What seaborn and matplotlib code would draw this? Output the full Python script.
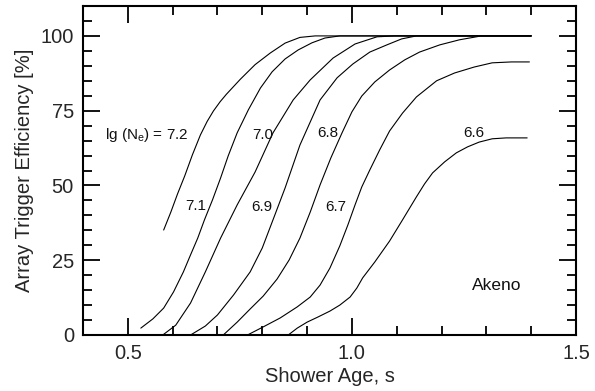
import matplotlib
matplotlib.use("Agg")
import matplotlib.pyplot as plt
from matplotlib.ticker import MultipleLocator
import seaborn as sns
import pandas as pd

# ---- data ----
age_72 = [0.580, 0.596, 0.611, 0.627, 0.644, 0.662, 0.677, 0.691, 0.706, 0.720, 0.751, 0.784,
          0.818, 0.851, 0.884, 0.918, 1.400]
eff_72 = [35.1, 41.1, 47.2, 53.2, 60.2, 66.9, 71.4, 74.9, 78.0, 80.5, 85.5, 90.4,
          94.3, 97.6, 99.5, 100.0, 100.0]

age_71 = [0.529, 0.556, 0.580, 0.602, 0.624, 0.640, 0.656, 0.671, 0.689, 0.707, 0.724, 0.744,
          0.769, 0.796, 0.822, 0.851, 0.880, 0.911, 0.940, 0.973, 1.400]
eff_71 = [2.3, 5.4, 9.0, 14.4, 21.1, 26.8, 32.4, 38.5, 45.2, 52.5, 59.9, 67.6,
          75.3, 82.6, 88.0, 92.3, 95.3, 97.7, 99.3, 100.0, 100.0]

age_70 = [0.578, 0.607, 0.640, 0.673, 0.707, 0.744, 0.784, 0.824, 0.869, 0.907, 0.958, 1.007, 1.056, 1.096, 1.400]
eff_70 = [0.0, 3.3, 10.7, 21.1, 32.4, 43.5, 54.5, 67.6, 78.6, 85.3, 92.6, 97.3, 99.7, 100.0, 100.0]

age_69 = [0.640, 0.673, 0.700, 0.736, 0.773, 0.800, 0.829, 0.851, 0.884, 0.929, 0.967, 1.002,
          1.040, 1.078, 1.111, 1.144, 1.400]
eff_69 = [0.0, 3.0, 6.7, 13.4, 21.1, 29.1, 40.5, 49.2, 63.5, 78.6, 86.0, 90.6,
          94.6, 97.0, 99.0, 100.0, 100.0]

age_68 = [0.713, 0.744, 0.773, 0.802, 0.833, 0.860, 0.884, 0.907, 0.929, 0.953, 0.978, 1.000,
          1.022, 1.051, 1.084, 1.118, 1.151, 1.196, 1.240, 1.289, 1.400]
eff_68 = [0.0, 4.3, 8.7, 13.0, 18.7, 25.1, 32.4, 41.1, 50.2, 59.2, 67.6, 74.6,
          79.9, 84.6, 88.6, 92.0, 94.6, 97.0, 98.7, 100.0, 100.0]

age_67 = [0.767, 0.802, 0.840, 0.878, 0.907, 0.929, 0.951, 0.973, 0.991, 1.007, 1.022, 1.040,
          1.062, 1.084, 1.113, 1.144, 1.189, 1.229, 1.273, 1.313, 1.356, 1.396]
eff_67 = [0.0, 2.7, 5.7, 9.4, 12.7, 16.7, 22.4, 29.8, 36.8, 43.5, 49.5, 55.2,
          61.9, 68.2, 74.2, 79.6, 85.0, 87.6, 89.6, 91.0, 91.3, 91.3]

age_66 = [0.858, 0.878, 0.900, 0.924, 0.951, 0.973, 0.996, 1.011, 1.024, 1.051, 1.084, 1.113,
          1.144, 1.162, 1.180, 1.207, 1.233, 1.258, 1.284, 1.313, 1.344, 1.391]
eff_66 = [0.0, 2.3, 4.3, 6.0, 8.0, 10.0, 12.7, 15.7, 19.1, 24.4, 31.4, 38.5,
          46.2, 50.5, 54.2, 57.9, 60.9, 62.9, 64.5, 65.6, 65.9, 65.9]

curve_names = ["7.2", "7.1", "7.0", "6.9", "6.8", "6.7", "6.6"]
curve_ages = [age_72, age_71, age_70, age_69, age_68, age_67, age_66]
curve_effs = [eff_72, eff_71, eff_70, eff_69, eff_68, eff_67, eff_66]

label_texts = ["lg (N$_\\mathregular{e}$) = 7.2", "7.1", "7.0", "6.9", "6.8", "6.7", "6.6"]
label_x = [0.449, 0.651, 0.800, 0.798, 0.947, 0.964, 1.271]
label_y = [66.9, 43.1, 66.9, 42.8, 67.6, 42.8, 67.6]

x_label = "Shower Age, s"
y_label = "Array Trigger Efficiency [%]"
note_text = "Akeno"

# ---- build long-form table ----
rows = []
for name, xs, ys in zip(curve_names, curve_ages, curve_effs):
    for i, (a, e) in enumerate(zip(xs, ys)):
        rows.append({"curve": name, "order": i, "age": a, "eff": e})
df = pd.DataFrame(rows)

sns.set_style("ticks")
plt.rcParams["font.family"] = ["Liberation Sans", "DejaVu Sans"]
plt.rcParams["mathtext.fontset"] = "custom"
plt.rcParams["mathtext.rm"] = "Liberation Sans"
plt.rcParams["mathtext.it"] = "Liberation Sans:italic"

fig = plt.figure(figsize=(5.95, 3.91), dpi=100)
ax = fig.add_axes([83 / 595, 1 - 335 / 391, (576 - 83) / 595, (335 - 6) / 391])

sns.lineplot(data=df, x="age", y="eff", hue="curve", units="curve", estimator=None,
             sort=False, palette=["black"] * len(curve_names), legend=False,
             linewidth=0.8, ax=ax)
for ln in ax.get_lines():
    ln.set_solid_joinstyle("round")
    ln.set_solid_capstyle("round")

for t, x, y in zip(label_texts, label_x, label_y):
    ha = "left" if t.startswith("lg") else "center"
    ax.text(x, y, t, ha=ha, va="center", fontsize=11, color="#111111")

ax.text(1.324, 16.4, note_text, ha="center", va="center", fontsize=12.5, color="#111111")

ax.set_xlim(0.4, 1.5)
ax.set_ylim(0, 110)
ax.xaxis.set_major_locator(MultipleLocator(0.5))
ax.xaxis.set_minor_locator(MultipleLocator(0.1))
ax.yaxis.set_major_locator(MultipleLocator(25))
ax.yaxis.set_minor_locator(MultipleLocator(5))
ax.set_xticks([0.5, 1.0, 1.5])
ax.set_xticklabels(["0.5", "1.0", "1.5"])

ax.tick_params(which="both", direction="in", top=True, right=True, color="black", width=1.3)
ax.tick_params(which="major", length=12, labelsize=14.5, pad=6.5)
ax.tick_params(which="minor", length=6.5)
for s in ax.spines.values():
    s.set_linewidth(1.5)
    s.set_color("black")

ax.set_xlabel(x_label, fontsize=14.5, labelpad=3)
ax.set_ylabel(y_label, fontsize=14.5, labelpad=5)

fig.savefig("out.png", dpi=100)
